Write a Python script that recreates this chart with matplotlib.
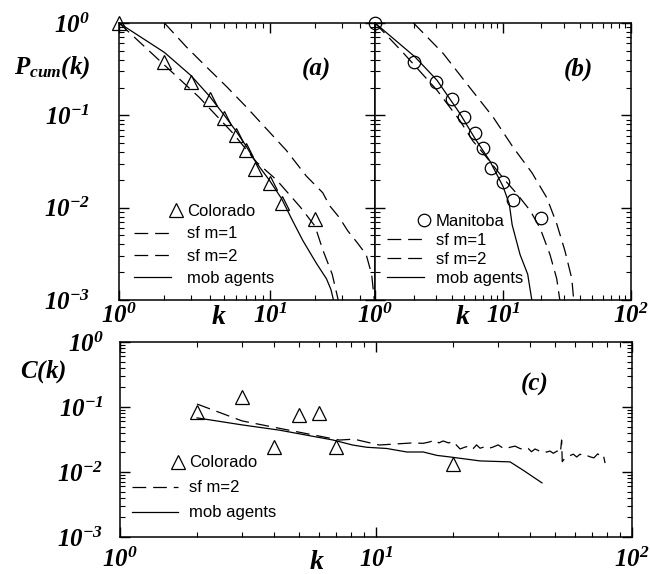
import matplotlib
matplotlib.use("Agg")
import matplotlib.pyplot as plt
from matplotlib.legend_handler import HandlerLine2D
from matplotlib.ticker import NullFormatter

plt.rcParams["font.family"] = "serif"
plt.rcParams["font.serif"] = ["Liberation Serif", "DejaVu Serif"]
plt.rcParams["mathtext.fontset"] = "custom"
plt.rcParams["mathtext.rm"] = "Liberation Serif:bold:italic"
plt.rcParams["mathtext.it"] = "Liberation Serif:bold:italic"
plt.rcParams["mathtext.bf"] = "Liberation Serif:bold:italic"

# panel (a): Colorado
k_col = [1, 2, 3, 4, 5, 6, 7, 8, 10, 12, 20]
p_col = [1.0, 0.377, 0.228, 0.149, 0.093, 0.061, 0.042, 0.0265, 0.0187, 0.0113, 0.0076]
k_a_m1 = [1, 2.08, 3.4, 5.7, 8.2, 11.1, 16, 20, 22.5, 26, 28.5]
p_a_m1 = [1, 0.33, 0.157, 0.064, 0.031, 0.02, 0.0101, 0.0063, 0.0035, 0.0019, 0.001]
k_a_m2 = [2, 2.8, 3.8, 5.2, 7, 9.5, 12.9, 17.5, 22.5, 25, 29, 33, 38, 43.7, 47.5, 49.5]
p_a_m2 = [1, 0.55, 0.335, 0.203, 0.123, 0.0716, 0.0417, 0.022, 0.0145, 0.0105, 0.0078,
          0.0056, 0.0042, 0.0031, 0.0019, 0.001]
k_a_mob = [1, 2, 3, 4, 5, 6, 7, 8, 10, 12, 14.2, 16.6, 20.4, 23.8, 25.5, 26.5]
p_a_mob = [1, 0.48, 0.27, 0.16, 0.1, 0.067, 0.046, 0.032, 0.0196, 0.0125, 0.0072, 0.0044,
           0.0025, 0.0017, 0.0013, 0.001]

# panel (b): Manitoba
k_man = [1, 2, 3, 4, 5, 6, 7, 8, 10, 12, 20]
p_man = [1.0, 0.377, 0.228, 0.149, 0.095, 0.064, 0.044, 0.027, 0.019, 0.012, 0.0078]
k_b_m1 = [1, 1.65, 3.05, 4.6, 5.8, 7, 10, 12.8, 16.3, 19.5, 23.3, 26.3, 27.8]
p_b_m1 = [1, 0.48, 0.187, 0.088, 0.053, 0.039, 0.021, 0.0142, 0.0093, 0.006, 0.0031, 0.0017, 0.001]
k_b_m2 = [2, 3.4, 5.5, 8.4, 12, 16.8, 22, 26.3, 30.5, 34.5, 35.7]
p_b_m2 = [1, 0.47, 0.2, 0.095, 0.045, 0.024, 0.0128, 0.0067, 0.0034, 0.0017, 0.001]
k_b_mob = [1, 2.05, 3.05, 4.6, 6, 7.9, 10, 11.2, 11.8, 13.6, 15.6, 16.8]
p_b_mob = [1, 0.43, 0.24, 0.105, 0.057, 0.032, 0.017, 0.011, 0.0065, 0.0031, 0.0019, 0.001]

# panel (c): clustering
k_c_col = [2, 3, 4, 5, 6, 7, 20]
c_c_col = [0.084, 0.143, 0.0243, 0.075, 0.081, 0.0243, 0.0132]
k_c_m2 = [2, 3, 4.7, 7.2, 8.2, 10.3, 12, 13.9,
          15.3, 16.2, 17, 17.6, 18.3, 19.2, 20, 21.3, 22.2, 23.3,
          24, 24.7, 25.5, 26.2, 27, 28.5, 30, 31, 31.9, 33.4,
          34.9, 36.5, 38.2, 39.3, 40.5, 41.8, 43.5, 45, 46.4, 47.8,
          49.3, 51, 52.5, 53.1, 53.4, 54.5, 55.6, 57.5, 59, 60.8,
          62.7, 64.5, 66.5, 68.6, 71, 73.5, 75.5, 77.3, 78.5]
c_c_m2 = [0.111, 0.061, 0.043, 0.031, 0.032, 0.026, 0.027, 0.028,
          0.0276, 0.029, 0.031, 0.028, 0.030, 0.028, 0.0294, 0.0226, 0.024, 0.0254,
          0.023, 0.0261, 0.0232, 0.024, 0.0226, 0.024, 0.0261, 0.024, 0.0226, 0.024,
          0.025, 0.023, 0.0219, 0.023, 0.0205, 0.0226, 0.021, 0.0215, 0.0202, 0.021,
          0.0194, 0.021, 0.0195, 0.031, 0.0144, 0.016, 0.0171, 0.018, 0.0188, 0.017,
          0.0188, 0.0175, 0.018, 0.0171, 0.0165, 0.019, 0.0175, 0.0182, 0.0137]
k_c_mob = [2, 3, 4.2, 6.8, 8.1, 9.2, 11, 13.2, 15.3, 17.3, 19.5, 25.5, 33.4, 37.5, 44.5]
c_c_mob = [0.068, 0.053, 0.044, 0.031, 0.026, 0.024, 0.023, 0.0203, 0.0203, 0.018, 0.017,
           0.0148, 0.0143, 0.0107, 0.0068]

LW = 0.9
DASH = (11, 5.5)
LEG_FONT = {"family": "Liberation Sans", "size": 12}
TICK_FS = 18


class MarkerRight(HandlerLine2D):
    # single legend marker drawn at the right end of the handle, next to the text
    def __init__(self, shift=0.0, **kw):
        super().__init__(**kw)
        self.shift = shift

    def get_xdata(self, legend, xdescent, ydescent, width, height, fontsize):
        x0 = -xdescent
        xm = width - xdescent + self.shift
        return [x0, 2 * xm - x0], [xm]


def style_axes(ax, xmax, ylabels, xlabels, ypad, xpad):
    ax.set_xscale("log")
    ax.set_yscale("log")
    ax.set_xlim(1, xmax)
    ax.set_ylim(1e-3, 1)
    ax.tick_params(which="both", direction="in", top=True, right=True)
    ax.tick_params(which="major", length=7, width=1.0)
    ax.tick_params(which="minor", length=3.5, width=0.8)
    ax.tick_params(axis="y", pad=ypad)
    ax.tick_params(axis="x", pad=xpad)
    ax.xaxis.set_minor_formatter(NullFormatter())
    ax.yaxis.set_minor_formatter(NullFormatter())
    ax.set_yticks([1, 1e-1, 1e-2, 1e-3], ylabels, fontsize=TICK_FS)
    xt = [10 ** i for i in range(len(xlabels))]
    ax.set_xticks(xt, xlabels, fontsize=TICK_FS)
    for s in ax.spines.values():
        s.set_linewidth(1.1)


fig = plt.figure(figsize=(6.5, 5.74), dpi=100)
ax_a = fig.add_axes([0.1831, 0.4774, 0.3938, 0.4826])
ax_b = fig.add_axes([0.5769, 0.4774, 0.3938, 0.4826])
ax_c = fig.add_axes([0.1846, 0.0645, 0.7877, 0.3397])

ylab = [r"$10^{0}$", r"$10^{-1}$", r"$10^{-2}$", r"$10^{-3}$"]
style_axes(ax_a, 50, ylab, [r"$10^{0}$", r"$10^{1}$"], 21, 3)
style_axes(ax_b, 100, ["", "", "", ""], [r"$10^{0}$", r"$10^{1}$", r"$10^{2}$"], 21, 3)
style_axes(ax_c, 100, ylab, [r"$10^{0}$", r"$10^{1}$", r"$10^{2}$"], 12, 8)

# (a)
h_col, = ax_a.plot(k_col, p_col, ls="none", marker="^", ms=10, mfc="none", mec="black",
                   mew=0.9, clip_on=False, zorder=4)
h_m1, = ax_a.plot(k_a_m1, p_a_m1, color="black", lw=LW, dashes=DASH)
h_m2, = ax_a.plot(k_a_m2, p_a_m2, color="black", lw=LW, dashes=DASH)
h_mob, = ax_a.plot(k_a_mob, p_a_mob, color="black", lw=LW)
ax_a.legend([h_col, h_m1, h_m2, h_mob], ["Colorado", "sf m=1", "sf m=2", "mob agents"],
            loc="lower left", bbox_to_anchor=(0.06, 0.05), frameon=False, prop=LEG_FONT,
            handlelength=2.2, handletextpad=0.95, labelspacing=0.44, borderpad=0,
            borderaxespad=0, numpoints=1, handler_map={h_col: MarkerRight(shift=3.5)})
ax_a.text(0.773, 0.832, "(a)", transform=ax_a.transAxes, ha="center", va="center",
          fontsize=18, fontweight="bold", fontstyle="italic")
ax_a.text(-0.262, 0.839, r"$P_{cum}(k)$", transform=ax_a.transAxes, ha="center",
          va="center", fontsize=18)
ax_a.text(0.39, -0.062, r"$k$", transform=ax_a.transAxes, ha="center", va="center",
          fontsize=20)

# (b)
h_man, = ax_b.plot(k_man, p_man, ls="none", marker="o", ms=9, mfc="none", mec="black",
                   mew=0.9, clip_on=False, zorder=4)
hb_m1, = ax_b.plot(k_b_m1, p_b_m1, color="black", lw=LW, dashes=DASH)
hb_m2, = ax_b.plot(k_b_m2, p_b_m2, color="black", lw=LW, dashes=DASH)
hb_mob, = ax_b.plot(k_b_mob, p_b_mob, color="black", lw=LW)
ax_b.legend([h_man, hb_m1, hb_m2, hb_mob], ["Manitoba", "sf m=1", "sf m=2", "mob agents"],
            loc="lower left", bbox_to_anchor=(0.047, 0.05), frameon=False, prop=LEG_FONT,
            handlelength=2.2, handletextpad=0.72, labelspacing=0.25, borderpad=0,
            borderaxespad=0, numpoints=1, handler_map={h_man: MarkerRight(shift=0.5)})
ax_b.text(0.793, 0.832, "(b)", transform=ax_b.transAxes, ha="center", va="center",
          fontsize=18, fontweight="bold", fontstyle="italic")
ax_b.text(0.344, -0.062, r"$k$", transform=ax_b.transAxes, ha="center", va="center",
          fontsize=20)

# (c)
hc_col, = ax_c.plot(k_c_col, c_c_col, ls="none", marker="^", ms=10, mfc="none",
                    mec="black", mew=0.9, zorder=4)
hc_m2, = ax_c.plot(k_c_m2, c_c_m2, color="black", lw=LW, dashes=DASH)
hc_mob, = ax_c.plot(k_c_mob, c_c_mob, color="black", lw=LW)
ax_c.legend([hc_col, hc_m2, hc_mob], ["Colorado", "sf m=2", "mob agents"],
            loc="lower left", bbox_to_anchor=(0.023, 0.085), frameon=False, prop=LEG_FONT,
            handlelength=2.75, handletextpad=0.7, labelspacing=0.6, borderpad=0,
            borderaxespad=0, numpoints=1, handler_map={hc_col: MarkerRight(shift=0.5)})
ax_c.text(0.81, 0.78, "(c)", transform=ax_c.transAxes, ha="center", va="center",
          fontsize=18, fontweight="bold", fontstyle="italic")
ax_c.text(-0.15, 0.846, r"$C(k)$", transform=ax_c.transAxes, ha="center", va="center",
          fontsize=18)
ax_c.text(0.385, -0.133, r"$k$", transform=ax_c.transAxes, ha="center", va="center",
          fontsize=20)

fig.savefig("out.png", dpi=100, facecolor="white")
